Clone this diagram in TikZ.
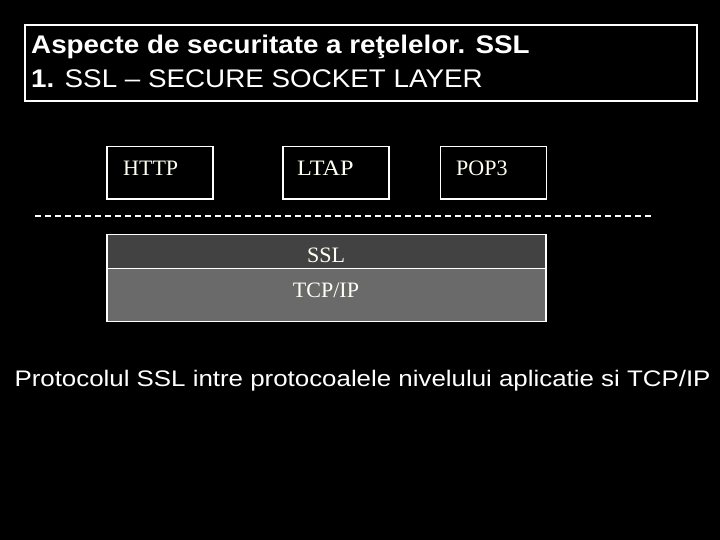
\documentclass[tikz,border=0pt]{standalone}
\usepackage{fontspec}
\setmainfont{Liberation Serif}
\newfontfamily\arial{Liberation Sans}
\definecolor{ivory}{HTML}{FFFFF2}
\definecolor{sslgray}{HTML}{424242}
\definecolor{tcpgray}{HTML}{6A6A6A}
\begin{document}
\begin{tikzpicture}[x=1pt,y=-1pt,
  titlefont/.style={font=\arial\fontsize{25.5}{25.5}\selectfont},
  appbox/.style={draw=white, line width=1.5pt, minimum width=106pt, minimum height=52.5pt, anchor=north west, inner sep=0pt},
  layerbox/.style={draw=white, line width=1.8pt, minimum width=439pt, anchor=north west, inner sep=0pt},
  lbl/.style={text=ivory, inner sep=0pt, font=\fontsize{22}{22}\selectfont},
  capt/.style={text=white, inner sep=0pt, font=\arial\fontsize{22.5}{22.5}\selectfont, anchor=base west}]
\fill[black] (0,0) rectangle (720,540);
\useasboundingbox (0,0) rectangle (720,540);
% title
\node[draw=white, line width=2pt, minimum width=672pt, minimum height=76pt, anchor=north west, inner sep=0pt] (title) at (24,24) {};
\node[font=\arial\bfseries\fontsize{25.5}{25.5}\selectfont, text=white, anchor=base west, inner sep=0pt] (t1) at (31,54) {\scalebox{1.09}[1]{Aspecte de securitate a reţelelor. SSL}};
\node[titlefont, text=white, anchor=base west, inner sep=0pt] (t2) at (31,88) {\scalebox{1.09}[1]{\textbf{1.} SSL – SECURE SOCKET LAYER}};
% application boxes
\node[appbox] (http) at (106,146) {};
\node[appbox] (ltap) at (282,146) {};
\node[appbox] (pop3) at (439.5,146) {};
\node[lbl, anchor=base west] (httpt) at (123,176) {HTTP};
\node[lbl, anchor=base west] (ltapt) at (297,176) {\scalebox{1.1}[1]{LTAP}};
\node[lbl, anchor=base west] (pop3t) at (456,176) {POP3};
% dashed line
\coordinate (dl) at (35,216);
\coordinate (dr) at (651,216);
\draw[white, line width=2pt, dash pattern=on 6pt off 4pt] (dl) -- (dr);
% layers
\node[layerbox, fill=sslgray, minimum height=34pt] (ssl) at (106,233.5) {};
\node[layerbox, fill=tcpgray, minimum height=53pt] (tcp) at (106,267.5) {};
\node[lbl, anchor=base] (sslt) at (326,262.7) {SSL};
\node[lbl, anchor=base] (tcpt) at (326,297.7) {TCP/IP};
% caption
\node[capt] (cap) at (14.3,386) {\scalebox{1.15}[1]{Protocolul SSL intre protocoalele nivelului aplicatie si TCP/IP}};
\end{tikzpicture}
\end{document}
